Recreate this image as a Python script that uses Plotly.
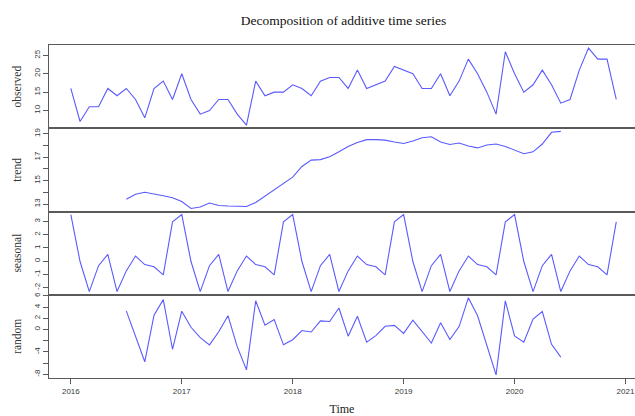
import plotly.graph_objects as go

# ---- data (monthly, Jan 2016 - Dec 2020) ----
start_year = 2016
observed = [16, 7, 11, 11, 16, 14, 16, 13, 8, 16, 18, 13,
            20, 13, 9, 10, 13, 13, 9, 6, 18, 14, 15, 15,
            17, 16, 14, 18, 19, 19, 16, 21, 16, 17, 18, 22,
            21, 20, 16, 16, 20, 14, 18, 24, 20, 15, 9, 26,
            20, 15, 17, 21, 17, 12, 13, 21, 27, 24, 24, 13]

# trend (Jul 2016 - Jun 2020), None elsewhere
trend_vals = [13.417, 13.833, 14.0, 13.875, 13.708, 13.542,
              13.208, 12.625, 12.75, 13.083, 12.875, 12.833,
              12.792, 12.792, 13.125, 13.667, 14.25, 14.75,
              15.292, 16.208, 16.75, 16.792, 17.042, 17.458,
              17.917, 18.25, 18.5, 18.5, 18.458, 18.292,
              18.167, 18.375, 18.667, 18.75, 18.292, 18.083,
              18.208, 17.958, 17.792, 18.042, 18.125, 17.917,
              17.625, 17.292, 17.458, 18.125, 19.125, 19.208]
trend = [None] * 6 + trend_vals + [None] * 6

seasonal_cycle = [3.527, -0.025, -2.306, -0.338, 0.516, -2.296,
                  -0.734, 0.392, -0.254, -0.421, -1.035, 2.975]
seasonal = seasonal_cycle * 5

random_vals = [3.317, -1.225, -5.746, 2.546, 5.327, -3.517,
               3.265, 0.4, -1.444, -2.745, -0.391, 2.463,
               -3.058, -7.184, 5.129, 0.754, 1.785, -2.725,
               -1.819, -0.183, -0.444, 1.546, 1.442, 3.838,
               -1.183, 2.358, -2.246, -1.079, 0.577, 0.733,
               -0.694, 1.65, -0.361, -2.412, 1.192, -1.787,
               0.526, 5.65, 2.462, -2.621, -8.09, 5.108,
               -1.152, -2.267, 1.848, 3.213, -2.641, -4.912]
random_c = [None] * 6 + random_vals + [None] * 6

time = [start_year + i / 12 for i in range(len(observed))]

panel_names = ["observed", "trend", "seasonal", "random"]
panel_series = [observed, trend, seasonal, random_c]
y_tickvals = [[10, 15, 20, 25],
              [13, 14, 15, 16, 17, 18, 19],
              [-2, -1, 0, 1, 2, 3],
              [-8, -6, -4, -2, 0, 2, 4, 6]]
y_ticktext = [["10", "15", "20", "25"],
              ["13", "", "15", "", "17", "", "19"],
              ["-2", "-1", "0", "1", "2", "3"],
              ["-8", "", "-4", "", "0", "2", "4", "6"]]
x_tickvals = [2016, 2017, 2018, 2019, 2020, 2021]

# ---- figure ----
W, H = 635, 416
LINE = "#5a5aff"
AX = "#5a5a5a"
tickfont = dict(family="Liberation Sans, Arial, sans-serif", size=8, color="#383838")
serif = "Liberation Serif, Times New Roman, serif"

fig = go.Figure()
n = len(panel_names)
left = 49.2
x0 = time[0] - 0.04 * (time[-1] - time[0])
px_per_year = 110.9
plot_w = W - left
x1 = x0 + plot_w / px_per_year

for k in range(n):
    idx = "" if k == 0 else str(k + 1)
    fig.add_trace(go.Scatter(x=time, y=panel_series[k], mode="lines",
                             line=dict(color=LINE, width=1.1),
                             connectgaps=False, showlegend=False,
                             xaxis="x" + idx, yaxis="y" + idx,
                             hoverinfo="skip"))
    vals = [v for v in panel_series[k] if v is not None]
    lo, hi = min(vals), max(vals)
    pad = 0.04 * (hi - lo)
    top = 1 - k / n
    bot = 1 - (k + 1) / n
    bottom_panel = (k == n - 1)
    fig.layout["yaxis" + idx] = dict(
        domain=[bot, top], range=[lo - pad, hi + pad], anchor="x" + idx,
        tickvals=y_tickvals[k], ticktext=y_ticktext[k], tickangle=-90,
        ticks="outside", ticklen=5, tickcolor=AX, tickwidth=1,
        showline=True, linecolor=AX, linewidth=1, mirror=False,
        showgrid=False, zeroline=False, tickfont=tickfont, automargin=False,
        title=dict(text=panel_names[k], font=dict(family=serif, size=11.5, color="#333"),
                   standoff=8))
    fig.layout["xaxis" + idx] = dict(
        domain=[0, 1], range=[x0, x1], anchor="y" + idx,
        showline=True, mirror=True, linecolor=AX, linewidth=1,
        showgrid=False, zeroline=False, automargin=False,
        ticklabeloverflow="allow",
        tickvals=x_tickvals if bottom_panel else [],
        ticktext=[str(v) for v in x_tickvals] if bottom_panel else [],
        ticks="outside" if bottom_panel else "", ticklen=5, tickcolor=AX,
        showticklabels=bottom_panel, tickfont=tickfont,
        title=dict(text="Time", font=dict(family=serif, size=12, color="#222"),
                   standoff=13) if bottom_panel else None)

fig.update_layout(
    width=W, height=H,
    margin=dict(l=left, r=0, t=44.5, b=37.5),
    paper_bgcolor="white", plot_bgcolor="white",
    hovermode=False,
    title=dict(text="Decomposition of additive time series",
               font=dict(family=serif, size=13.5, color="#111"),
               x=(left + 638) / 2 / W, xanchor="center", y=1 - 20 / H, yanchor="middle"),
)

fig.write_html(
    "out.html",
    config={"displayModeBar": False, "staticPlot": True},
    post_script="document.body.style.margin='0';document.body.style.overflow='hidden';",
)
